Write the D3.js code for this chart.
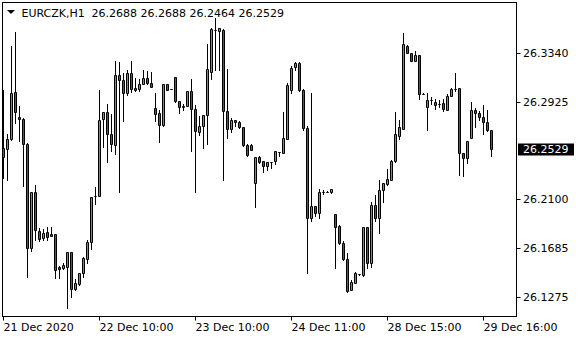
<!DOCTYPE html>
<html lang="en">
  <head>
    <meta charset="utf-8" />
    <title>EURCZK H1</title>
    <script src="https://d3js.org/d3.v7.min.js"></script>
    <style type="text/css">
      body {
        margin: 0;
        background: #ffffff;
      }
      svg {
        display: block;
        font-family: "DejaVu Sans", sans-serif;
        font-size: 11px;
      }
    </style>
  </head>
  <body>
    <svg id="chart" width="580" height="340"></svg>

    <script type="text/javascript">
      // hourly bars, left to right
      const opens = [
        26.2533, 26.2525, 26.2610, 26.3007, 26.2796, 26.2779, 26.2570, 26.1692, 26.2161, 26.1836,
        26.1772, 26.1825, 26.1806, 26.1806, 26.1529, 26.1518, 26.1526, 26.1653, 26.1340, 26.1383,
        26.1476, 26.1599, 26.1743, 26.2130, 26.2132, 26.2776, 26.2838, 26.2652, 26.2555, 26.3154,
        26.3109, 26.2999, 26.3168, 26.3042, 26.3031, 26.3075, 26.3126, 26.3084, 26.2872, 26.2830,
        26.2725, 26.3070, 26.3031, 26.3134, 26.2931, 26.2877, 26.2889, 26.3016, 26.2864, 26.2666,
        26.2716, 26.2811, 26.3177, 26.3532, 26.3520, 26.3532, 26.2843, 26.2694, 26.2770, 26.2754,
        26.2711, 26.2561, 26.2561, 26.2242, 26.2454, 26.2420, 26.2378, 26.2412, 26.2426, 26.2500,
        26.2491, 26.2612, 26.3021, 26.3216, 26.3253, 26.3027, 26.2703, 26.1941, 26.2045, 26.1988,
        26.2165, 26.2165, 26.2158, 26.1977, 26.1876, 26.1735, 26.1594, 26.1334, 26.1396, 26.1470,
        26.1459, 26.1865, 26.1560, 26.2054, 26.1941, 26.2175, 26.2231, 26.2265, 26.2420, 26.2638,
        26.2694, 26.3393, 26.3332, 26.3266, 26.3315, 26.2993, 26.2880, 26.2936, 26.2925, 26.2908,
        26.2914, 26.2858, 26.2976, 26.3031, 26.3041, 26.2491, 26.2446, 26.2618, 26.2858, 26.2830,
        26.2796, 26.2750, 26.2688
      ];
      const highs = [
        26.3027, 26.2655, 26.3399, 26.3515, 26.2891, 26.2784, 26.2576, 26.2164, 26.2223, 26.1857,
        26.1851, 26.1862, 26.1865, 26.1808, 26.1533, 26.1565, 26.1656, 26.1656, 26.1425, 26.1478,
        26.1616, 26.1757, 26.2121, 26.2203, 26.3027, 26.2841, 26.2908, 26.2824, 26.3270, 26.3258,
        26.3171, 26.3196, 26.3264, 26.3126, 26.3117, 26.3194, 26.3182, 26.3177, 26.2999, 26.2852,
        26.3072, 26.3072, 26.3033, 26.3137, 26.2934, 26.2902, 26.3018, 26.3112, 26.2900, 26.2801,
        26.2814, 26.3416, 26.3543, 26.3634, 26.3545, 26.3535, 26.3202, 26.2787, 26.2773, 26.2765,
        26.2713, 26.2564, 26.2564, 26.2460, 26.2462, 26.2423, 26.2414, 26.2413, 26.2507, 26.2502,
        26.2835, 26.3086, 26.3224, 26.3258, 26.3258, 26.3033, 26.2716, 26.2999, 26.2045, 26.2186,
        26.2181, 26.2167, 26.2189, 26.1980, 26.1879, 26.1752, 26.1650, 26.1419, 26.1489, 26.1472,
        26.1868, 26.1868, 26.2077, 26.2138, 26.2265, 26.2240, 26.2358, 26.2428, 26.2838, 26.2773,
        26.3501, 26.3401, 26.3334, 26.3351, 26.3317, 26.2995, 26.2999, 26.2965, 26.2948, 26.2936,
        26.2948, 26.2993, 26.3041, 26.3168, 26.3044, 26.2494, 26.2592, 26.2923, 26.2872, 26.2843,
        26.2900, 26.2858, 26.2688
      ];
      const lows = [
        26.2280, 26.2265, 26.2604, 26.2745, 26.2589, 26.2209, 26.1447, 26.1667, 26.1757, 26.1746,
        26.1757, 26.1757, 26.1791, 26.1433, 26.1433, 26.1509, 26.1179, 26.1278, 26.1337, 26.1380,
        26.1447, 26.1560, 26.1684, 26.2062, 26.2130, 26.2539, 26.2412, 26.2505, 26.2479, 26.2158,
        26.2759, 26.2979, 26.3004, 26.3012, 26.3012, 26.3073, 26.3075, 26.3050, 26.2765, 26.2581,
        26.2722, 26.3022, 26.3029, 26.2919, 26.2830, 26.2858, 26.2887, 26.2505, 26.2158, 26.2646,
        26.2530, 26.2570, 26.3120, 26.3196, 26.3190, 26.2265, 26.2618, 26.2666, 26.2722, 26.2703,
        26.2553, 26.2468, 26.2516, 26.2031, 26.2409, 26.2327, 26.2350, 26.2364, 26.2401, 26.2462,
        26.2489, 26.2610, 26.2999, 26.3190, 26.3018, 26.2686, 26.1481, 26.1921, 26.1961, 26.1941,
        26.2147, 26.2163, 26.2155, 26.1523, 26.1724, 26.1588, 26.1320, 26.1331, 26.1394, 26.1461,
        26.1453, 26.1523, 26.1531, 26.1921, 26.1814, 26.2081, 26.2223, 26.2262, 26.2418, 26.2610,
        26.2692, 26.3335, 26.3264, 26.3264, 26.2951, 26.2991, 26.2686, 26.2908, 26.2864, 26.2880,
        26.2843, 26.2857, 26.2974, 26.3012, 26.2308, 26.2293, 26.2407, 26.2615, 26.2711, 26.2773,
        26.2655, 26.2674, 26.2464
      ];
      const closes = [
        26.2457, 26.2610, 26.2999, 26.2838, 26.2776, 26.2567, 26.1692, 26.2161, 26.1842, 26.1768,
        26.1814, 26.1783, 26.1794, 26.1504, 26.1509, 26.1543, 26.1653, 26.1340, 26.1391, 26.1476,
        26.1605, 26.1740, 26.2119, 26.2128, 26.2773, 26.2838, 26.2652, 26.2567, 26.3154, 26.3109,
        26.2999, 26.3168, 26.3031, 26.3027, 26.3075, 26.3126, 26.3080, 26.3051, 26.2821, 26.2725,
        26.3070, 26.3024, 26.3030, 26.2928, 26.2877, 26.2891, 26.3016, 26.2864, 26.2674, 26.2722,
        26.2811, 26.3202, 26.3535, 26.3530, 26.3543, 26.2843, 26.2694, 26.2773, 26.2750, 26.2711,
        26.2555, 26.2477, 26.2519, 26.2457, 26.2412, 26.2378, 26.2412, 26.2411, 26.2505, 26.2499,
        26.2618, 26.3069, 26.3210, 26.3253, 26.3021, 26.2703, 26.1941, 26.2045, 26.1988, 26.2158,
        26.2166, 26.2166, 26.2186, 26.1870, 26.1729, 26.1594, 26.1328, 26.1405, 26.1481, 26.1469,
        26.1865, 26.1560, 26.2054, 26.1941, 26.2181, 26.2237, 26.2274, 26.2426, 26.2655, 26.2711,
        26.3414, 26.3337, 26.3266, 26.3315, 26.2993, 26.2992, 26.2936, 26.2935, 26.2897, 26.2907,
        26.2864, 26.2976, 26.3031, 26.3030, 26.2491, 26.2446, 26.2589, 26.2858, 26.2826, 26.2792,
        26.2750, 26.2682, 26.2529
      ];

      // axis labels
      const priceTicks = [26.3340, 26.2925, 26.2100, 26.1685, 26.1275];
      const timeTickBars = [0, 24, 48, 72, 96, 120];
      const timeTickLabels = ["21 Dec 2020", "22 Dec 10:00", "23 Dec 10:00", "24 Dec 11:00", "28 Dec 15:00", "29 Dec 16:00"];
      const symbol = "EURCZK,H1";
      const lastPrice = 26.2529;

      const bullColor = "#3cb83c";
      const bearColor = "#e01e1e";

      const svg = d3.select("#chart");
      const pLeft = 2.5, pRight = 516.5, pTop = 2.5, pBottom = 316.5;

      const x = d3.scaleLinear()
            .domain([0, opens.length - 1])
            .range([3.5, 3.5 + 4 * (opens.length - 1)]);
      const y = d3.scaleLinear()
            .domain([26.1275, 26.3340])
            .range([297, 52.5]);

      const bars = opens.map((o, i) => ({i: i, o: o, h: highs[i], l: lows[i], c: closes[i]}));
      const snap = v => Math.round(v) + 0.5;

      // frame
      svg.append("rect")
            .attr("x", pLeft).attr("y", pTop)
            .attr("width", pRight - pLeft).attr("height", pBottom - pTop)
            .attr("fill", "none")
            .attr("stroke", "#000");

      const plot = svg.append("g");

      // wicks
      plot.selectAll("line.wick")
            .data(bars)
            .enter()
            .append("line")
            .attr("class", "wick")
            .attr("x1", d => x(d.i)).attr("x2", d => x(d.i))
            .attr("y1", d => snap(y(d.h)) - 0.5)
            .attr("y2", d => snap(y(d.l)) + 0.5)
            .attr("stroke", "#000")
            .attr("stroke-width", 1);

      // bodies
      plot.selectAll("path.body")
            .data(bars)
            .enter()
            .append("path")
            .attr("class", "body")
            .attr("d", d => {
              const x0 = x(d.i) - 1, x1 = x(d.i) + 1;
              const yt = snap(y(Math.max(d.o, d.c))), yb = snap(y(Math.min(d.o, d.c)));
              return `M${x0},${yt}H${x1}V${yb}H${x0}Z`;
            })
            .attr("fill", d => d.c >= d.o ? bullColor : bearColor)
            .attr("stroke", "#000")
            .attr("stroke-width", 1);

      // price axis
      const ya = svg.append("g");
      ya.selectAll("line")
            .data(priceTicks)
            .enter()
            .append("line")
            .attr("x1", pRight).attr("x2", pRight + 4)
            .attr("y1", d => snap(y(d))).attr("y2", d => snap(y(d)))
            .attr("stroke", "#000");
      ya.selectAll("text")
            .data(priceTicks)
            .enter()
            .append("text")
            .attr("x", 523)
            .attr("y", d => y(d) + 4)
            .attr("fill", "#000")
            .text(d => d.toFixed(4));

      // current price marker
      svg.append("rect")
            .attr("x", 518).attr("y", Math.round(y(lastPrice)) - 5.5)
            .attr("width", 56).attr("height", 12)
            .attr("fill", "#000");
      svg.append("text")
            .attr("x", 523)
            .attr("y", y(lastPrice) + 4)
            .attr("fill", "#fff")
            .text(lastPrice.toFixed(4));

      // time axis
      const xa = svg.append("g");
      xa.selectAll("line")
            .data(timeTickBars)
            .enter()
            .append("line")
            .attr("x1", d => x(d)).attr("x2", d => x(d))
            .attr("y1", pBottom).attr("y2", pBottom + 4)
            .attr("stroke", "#000");
      xa.selectAll("text")
            .data(timeTickBars)
            .enter()
            .append("text")
            .attr("x", d => x(d))
            .attr("y", 331)
            .attr("fill", "#000")
            .text((d, i) => timeTickLabels[i]);

      // header: symbol and last bar OHLC
      const n = opens.length - 1;
      svg.append("path")
            .attr("d", "M7,10H15L11,14Z")
            .attr("fill", "#000");
      svg.append("text")
            .attr("x", 21.5).attr("y", 16.5)
            .attr("fill", "#000")
            .text(symbol);
      svg.append("text")
            .attr("x", 91.5).attr("y", 16.5)
            .attr("fill", "#000")
            .text([opens[n], highs[n], lows[n], closes[n]].map(v => v.toFixed(4)).join(" "));
    </script>
  </body>
</html>
